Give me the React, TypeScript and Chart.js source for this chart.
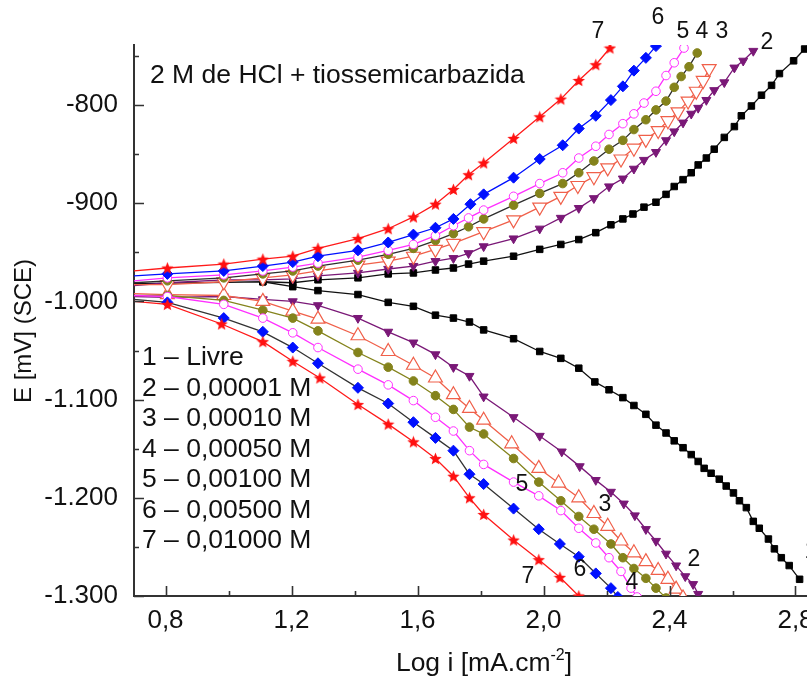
import React, { useEffect, useRef } from "react";
import { Chart, registerables } from "chart.js";

Chart.register(...registerables);

type P = [number, number];

// ---------- axis ticks ----------
const xMajorTicks = [0.8, 1.2, 1.6, 2.0, 2.4, 2.8];
const xTickLabels = ["0,8", "1,2", "1,6", "2,0", "2,4", "2,8"];
const xMinorTicks = [1.0, 1.4, 1.8, 2.2, 2.6, 3.0];
const yMajorTicks = [-1300, -1200, -1100, -1000, -900, -800];
const yTickLabels = ["-1.300", "-1.200", "-1.100", "-1.000", "-900", "-800"];
const yMinorTicks = [-1250, -1150, -1050, -950, -850, -750];

const X_MIN = 0.7;
const X_MAX = 3.1356;
const Y_MIN = -1300;
const Y_MAX = -738.9;

const titleText = "2 M de HCl + tiossemicarbazida";
const yTitle = "E [mV] (SCE)";
const legendLines = [
  "1 – Livre",
  "2 – 0,00001 M",
  "3 – 0,00010 M",
  "4 – 0,00050 M",
  "5 – 0,00100 M",
  "6 – 0,00500 M",
  "7 – 0,01000 M",
];

// ---------- data: [log i, E] ----------
const c1Anodic: P[] = [
  [0.7, -982], [1.109, -980], [1.204, -981], [1.284, -978], [1.411, -976], [1.507, -972],
  [1.587, -971], [1.657, -968], [1.714, -966], [1.762, -962], [1.81, -959], [1.905, -954],
  [1.988, -947], [2.055, -942], [2.112, -937], [2.166, -930], [2.214, -922], [2.252, -916],
  [2.284, -911], [2.319, -904], [2.357, -899], [2.389, -891], [2.415, -883], [2.443, -876],
  [2.469, -869], [2.491, -861], [2.517, -854], [2.542, -845], [2.574, -833], [2.606, -822],
  [2.628, -811], [2.66, -801], [2.692, -790], [2.724, -780], [2.749, -768], [2.794, -755],
  [2.829, -743], [2.86, -731],
];
const c1Cathodic: P[] = [
  [1.109, -980], [1.204, -985], [1.284, -989], [1.411, -993], [1.507, -1001], [1.587, -1005],
  [1.657, -1014], [1.714, -1017], [1.765, -1021], [1.81, -1029], [1.905, -1038], [1.988, -1051],
  [2.055, -1058], [2.112, -1068], [2.163, -1082], [2.208, -1090], [2.252, -1098], [2.287, -1106],
  [2.325, -1115], [2.357, -1126], [2.389, -1134], [2.415, -1142], [2.443, -1149], [2.469, -1156],
  [2.491, -1163], [2.51, -1170], [2.532, -1175], [2.558, -1181], [2.58, -1188], [2.603, -1195],
  [2.622, -1203], [2.644, -1210], [2.666, -1224], [2.685, -1231], [2.714, -1242], [2.733, -1252],
  [2.755, -1261], [2.78, -1269], [2.813, -1283],
];
const c2Anodic: P[] = [
  [0.7, -984], [0.806, -981], [0.985, -978], [1.109, -978], [1.204, -977], [1.284, -974],
  [1.411, -971], [1.507, -967], [1.587, -964], [1.657, -959], [1.714, -956], [1.762, -951],
  [1.81, -944], [1.905, -936], [1.988, -926], [2.055, -915], [2.112, -905], [2.16, -895],
  [2.208, -883], [2.252, -875], [2.287, -865], [2.319, -856], [2.357, -848], [2.389, -836],
  [2.415, -827], [2.443, -818], [2.469, -809], [2.491, -803], [2.517, -795], [2.542, -785],
  [2.574, -777], [2.606, -762], [2.634, -755], [2.666, -745],
];
const c2Cathodic: P[] = [
  [0.7, -995], [0.806, -996], [0.985, -995], [1.109, -998], [1.204, -1000], [1.284, -1004],
  [1.411, -1017], [1.507, -1031], [1.587, -1042], [1.657, -1054], [1.714, -1067], [1.765, -1076],
  [1.81, -1097], [1.905, -1118], [1.988, -1137], [2.058, -1153], [2.115, -1168], [2.166, -1182],
  [2.214, -1194], [2.255, -1206], [2.29, -1218], [2.325, -1232], [2.357, -1244], [2.389, -1257],
  [2.421, -1269], [2.45, -1280], [2.475, -1288], [2.491, -1298],
];
const c3Anodic: P[] = [
  [0.7, -983], [0.806, -983], [0.985, -980], [1.109, -976], [1.204, -973], [1.284, -969],
  [1.411, -963], [1.507, -959], [1.587, -954], [1.657, -947], [1.714, -941], [1.81, -929],
  [1.905, -917], [1.988, -904], [2.055, -893], [2.109, -882], [2.16, -873], [2.204, -864],
  [2.246, -855], [2.287, -844], [2.325, -835], [2.364, -826], [2.395, -816], [2.427, -807],
  [2.459, -796], [2.485, -786], [2.507, -775], [2.526, -763],
];
const c3Cathodic: P[] = [
  [0.7, -992], [0.806, -993], [0.985, -994], [1.109, -1000], [1.204, -1010], [1.284, -1018],
  [1.411, -1035], [1.507, -1051], [1.587, -1065], [1.657, -1078], [1.714, -1095], [1.765, -1109],
  [1.81, -1121], [1.899, -1145], [1.985, -1170], [2.048, -1185], [2.112, -1200], [2.16, -1216],
  [2.204, -1229], [2.246, -1244], [2.287, -1256], [2.325, -1265], [2.364, -1274], [2.395, -1283],
  [2.421, -1293], [2.443, -1302],
];
const c4Anodic: P[] = [
  [0.7, -981], [0.806, -979], [0.985, -976], [1.109, -972], [1.204, -969], [1.284, -964],
  [1.411, -958], [1.507, -952], [1.587, -946], [1.657, -938], [1.714, -931], [1.762, -924],
  [1.81, -916], [1.905, -902], [1.988, -890], [2.061, -880], [2.112, -869], [2.16, -857],
  [2.208, -845], [2.252, -836], [2.287, -825], [2.325, -815], [2.357, -805], [2.389, -796],
  [2.415, -782], [2.437, -771], [2.462, -761], [2.488, -747],
];
const c4Cathodic: P[] = [
  [0.7, -994], [0.806, -994], [0.985, -999], [1.109, -1009], [1.204, -1017], [1.284, -1030],
  [1.411, -1052], [1.507, -1067], [1.587, -1081], [1.657, -1096], [1.714, -1110], [1.765, -1128],
  [1.81, -1135], [1.905, -1160], [1.985, -1184], [2.055, -1203], [2.112, -1219], [2.16, -1232],
  [2.214, -1247], [2.252, -1261], [2.287, -1272], [2.325, -1282], [2.357, -1292], [2.389, -1302],
];
const c5Anodic: P[] = [
  [0.7, -979], [0.806, -976], [0.985, -973], [1.109, -969], [1.204, -965], [1.284, -961],
  [1.411, -955], [1.507, -948], [1.587, -942], [1.657, -933], [1.714, -923], [1.762, -915],
  [1.81, -907], [1.905, -893], [1.988, -880], [2.061, -869], [2.112, -854], [2.166, -842],
  [2.208, -830], [2.252, -819], [2.287, -809], [2.319, -798], [2.357, -786], [2.389, -770],
  [2.415, -757], [2.446, -742],
];
const c5Cathodic: P[] = [
  [0.7, -994], [0.806, -995], [0.985, -1003], [1.109, -1017], [1.204, -1032], [1.284, -1047],
  [1.411, -1069], [1.507, -1085], [1.587, -1101], [1.657, -1118], [1.714, -1132], [1.765, -1152],
  [1.81, -1166], [1.905, -1184], [1.985, -1198], [2.055, -1213], [2.112, -1231], [2.166, -1246],
  [2.208, -1261], [2.246, -1275], [2.278, -1292], [2.297, -1301],
];
const c6Anodic: P[] = [
  [0.7, -974], [0.806, -972], [0.985, -969], [1.109, -964], [1.204, -960], [1.284, -954],
  [1.411, -948], [1.507, -940], [1.587, -932], [1.657, -925], [1.714, -916], [1.768, -901],
  [1.81, -891], [1.905, -874], [1.988, -855], [2.061, -841], [2.112, -824], [2.166, -811],
  [2.214, -795], [2.252, -781], [2.287, -765], [2.325, -752], [2.357, -740],
];
const c6Cathodic: P[] = [
  [0.7, -998], [0.806, -1001], [0.985, -1017], [1.109, -1031], [1.204, -1047], [1.284, -1063],
  [1.411, -1088], [1.507, -1104], [1.587, -1123], [1.657, -1139], [1.714, -1152], [1.765, -1176],
  [1.81, -1186], [1.905, -1211], [1.985, -1232], [2.052, -1247], [2.112, -1260], [2.166, -1277],
  [2.214, -1292], [2.236, -1301],
];
const c7Anodic: P[] = [
  [0.7, -969], [0.806, -966], [0.985, -962], [1.109, -957], [1.204, -954], [1.284, -946],
  [1.411, -936], [1.507, -926], [1.587, -914], [1.657, -901], [1.714, -886], [1.762, -871],
  [1.81, -859], [1.905, -834], [1.988, -812], [2.055, -794], [2.112, -775], [2.166, -759],
  [2.211, -742],
];
const c7Cathodic: P[] = [
  [0.7, -1000], [0.806, -1003], [0.978, -1023], [1.109, -1041], [1.204, -1061], [1.29, -1078],
  [1.411, -1105], [1.507, -1125], [1.587, -1143], [1.657, -1160], [1.714, -1178], [1.765, -1200],
  [1.81, -1217], [1.905, -1243], [1.985, -1263], [2.052, -1281], [2.112, -1300],
];

// ---------- annotation text ----------
const curveLabels = ["7", "6", "5", "4", "3", "2", "5", "3", "2", "7", "6", "4", "1"];
const curveLabelPos: P[] = [
  [598, 32], [658, 18], [683, 32], [702, 32], [722, 32], [767, 43],
  [522, 485], [605, 505], [694, 560], [528, 577], [580, 570], [632, 583], [811, 552],
];

const FONT = '"Liberation Sans", Arial, Helvetica, sans-serif';
const PX_PER_UNIT = 315;

function makeStar(size: number, color: string): HTMLCanvasElement {
  const c = document.createElement("canvas");
  c.width = size;
  c.height = size;
  const g = c.getContext("2d")!;
  g.fillStyle = color;
  g.beginPath();
  for (let i = 0; i < 10; i++) {
    const r = i % 2 === 0 ? size / 2 : size / 4.6;
    const a = -Math.PI / 2 + (i * Math.PI) / 5;
    g.lineTo(size / 2 + r * Math.cos(a), size / 2 + 0.6 + r * Math.sin(a));
  }
  g.closePath();
  g.fill();
  return c;
}

const toXY = (arr: P[]) => arr.map(([x, y]) => ({ x, y }));

function series(
  data: P[],
  line: string,
  pointStyle: any,
  r: number,
  fill: string,
  stroke: string,
  rotation = 0,
  pointBorder = 1
) {
  return {
    data: toXY(data),
    showLine: true,
    borderColor: line,
    borderWidth: 1.3,
    tension: 0,
    pointStyle,
    pointRotation: rotation,
    pointRadius: (ctx: any) => (ctx.raw && ctx.raw.x <= X_MIN + 0.01 ? 0 : r),
    pointBackgroundColor: fill,
    pointBorderColor: stroke,
    pointBorderWidth: pointBorder,
    clip: 0,
  };
}

const decorPlugin = {
  id: "decor",
  afterDraw(chart: any) {
    const { ctx, chartArea: a, scales } = chart;
    const xs = scales.x;
    const ys = scales.y;
    ctx.save();
    ctx.strokeStyle = "#333";
    ctx.lineWidth = 1.6;
    ctx.beginPath();
    xMajorTicks.forEach((v) => {
      const px = Math.round(xs.getPixelForValue(v)) + 0.5;
      ctx.moveTo(px, a.bottom);
      ctx.lineTo(px, a.bottom - 10);
    });
    xMinorTicks.forEach((v) => {
      const px = Math.round(xs.getPixelForValue(v)) + 0.5;
      ctx.moveTo(px, a.bottom);
      ctx.lineTo(px, a.bottom - 5);
    });
    yMajorTicks.forEach((v) => {
      const py = Math.round(ys.getPixelForValue(v)) + 0.5;
      ctx.moveTo(a.left, py);
      ctx.lineTo(a.left + 10, py);
    });
    yMinorTicks.forEach((v) => {
      const py = Math.round(ys.getPixelForValue(v)) + 0.5;
      ctx.moveTo(a.left, py);
      ctx.lineTo(a.left + 5, py);
    });
    ctx.stroke();

    ctx.fillStyle = "#111";
    ctx.font = `26.5px ${FONT}`;
    ctx.textAlign = "left";
    ctx.textBaseline = "alphabetic";
    ctx.fillText(titleText, 150, 83);
    legendLines.forEach((t, i) => {
      ctx.fillText(t, 142, 365 + i * 30.5);
    });
    ctx.font = `23px ${FONT}`;
    ctx.textAlign = "center";
    ctx.textBaseline = "middle";
    curveLabels.forEach((t, i) => {
      ctx.fillText(t, curveLabelPos[i][0], curveLabelPos[i][1]);
    });
    ctx.save();
    ctx.translate(24, 331);
    ctx.rotate(-Math.PI / 2);
    ctx.font = `24px ${FONT}`;
    ctx.textAlign = "center";
    ctx.textBaseline = "middle";
    ctx.fillText(yTitle, 0, 0);
    ctx.restore();
    const main1 = "Log i [mA.cm";
    const sup = "-2";
    const main2 = "]";
    ctx.textAlign = "left";
    ctx.textBaseline = "alphabetic";
    ctx.font = `26.5px ${FONT}`;
    const w1 = ctx.measureText(main1).width;
    const w3 = ctx.measureText(main2).width;
    ctx.font = `16px ${FONT}`;
    const w2 = ctx.measureText(sup).width;
    const total = w1 + w2 + w3;
    const x0 = 484 - total / 2;
    const base = 671;
    ctx.font = `26.5px ${FONT}`;
    ctx.fillText(main1, x0, base);
    ctx.font = `16px ${FONT}`;
    ctx.fillText(sup, x0 + w1, base - 11);
    ctx.font = `26.5px ${FONT}`;
    ctx.fillText(main2, x0 + w1 + w2, base);
    ctx.restore();
  },
};

export default function App() {
  const canvasRef = useRef<HTMLCanvasElement | null>(null);

  useEffect(() => {
    if (!canvasRef.current) return;
    const star = makeStar(13, "#ff1010");
    const purple = "#7a1877";
    const orange = "#f0604a";
    const olive = "#84831c";
    const magenta = "#ff30ff";
    const blue = "#0010ff";
    const red = "#ff1a1a";

    const datasets: any[] = [
      series(c7Anodic, red, star, 5, red, red),
      series(c7Cathodic, red, star, 5, red, red),
      series(c6Anodic, blue, "rectRot", 5.5, blue, blue),
      series(c6Cathodic, "#333333", "rectRot", 5.5, blue, blue),
      series(c5Anodic, magenta, "circle", 4.3, "#ffffff", magenta),
      series(c5Cathodic, magenta, "circle", 4.3, "#ffffff", magenta),
      series(c4Anodic, "#2e2e2e", "circle", 4.3, olive, olive),
      series(c4Cathodic, olive, "circle", 4.3, olive, olive),
      series(c3Anodic, orange, "triangle", 8, "#ffffff", orange, 180, 1.2),
      series(c3Cathodic, orange, "triangle", 8, "#ffffff", orange, 0, 1.2),
      series(c2Anodic, purple, "triangle", 5.2, purple, purple, 180),
      series(c2Cathodic, purple, "triangle", 5.2, purple, purple, 180),
      series(c1Anodic, "#111111", "rect", 4.6, "#000000", "#000000"),
      series(c1Cathodic, "#111111", "rect", 4.6, "#000000", "#000000"),
    ];

    const chart = new Chart(canvasRef.current, {
      type: "scatter",
      data: { datasets },
      plugins: [decorPlugin],
      options: {
        responsive: false,
        animation: false,
        events: [],
        layout: { padding: { top: 45, right: 0, left: 0, bottom: 0 } },
        plugins: { legend: { display: false }, tooltip: { enabled: false } },
        scales: {
          x: {
            type: "linear",
            min: X_MIN,
            max: X_MAX,
            grid: { display: false },
            border: { display: true, color: "#333", width: 2 },
            afterBuildTicks: (s: any) => {
              s.ticks = xMajorTicks.map((v) => ({ value: v }));
            },
            afterFit: (s: any) => {
              s.height = 81;
            },
            ticks: {
              autoSkip: false,
              maxRotation: 0,
              padding: 1,
              color: "#111",
              font: { size: 26, family: FONT },
              callback: (v: any) => xTickLabels[xMajorTicks.indexOf(Number(v))] ?? "",
            },
          },
          y: {
            type: "linear",
            min: Y_MIN,
            max: Y_MAX,
            grid: { display: false },
            border: { display: true, color: "#333", width: 2 },
            afterBuildTicks: (s: any) => {
              s.ticks = yMajorTicks.map((v) => ({ value: v }));
            },
            afterFit: (s: any) => {
              s.width = 134;
            },
            ticks: {
              autoSkip: false,
              padding: 8,
              color: "#111",
              font: { size: 26, family: FONT },
              callback: (v: any) => yTickLabels[yMajorTicks.indexOf(Number(v))] ?? "",
            },
          },
        },
      } as any,
    });
    // keep a fixed scale density on the x axis, whatever width the layout leaves
    const area = chart.chartArea;
    const newMax = X_MIN + (area.right - area.left) / PX_PER_UNIT;
    (chart.options.scales as any).x.max = newMax;
    chart.update("none");
    return () => chart.destroy();
  }, []);

  return (
    <div
      style={{
        position: "fixed",
        left: 0,
        top: 0,
        width: 807,
        height: 677,
        overflow: "hidden",
        background: "#ffffff",
      }}
    >
      <canvas ref={canvasRef} width={900} height={677} style={{ display: "block" }} />
    </div>
  );
}
